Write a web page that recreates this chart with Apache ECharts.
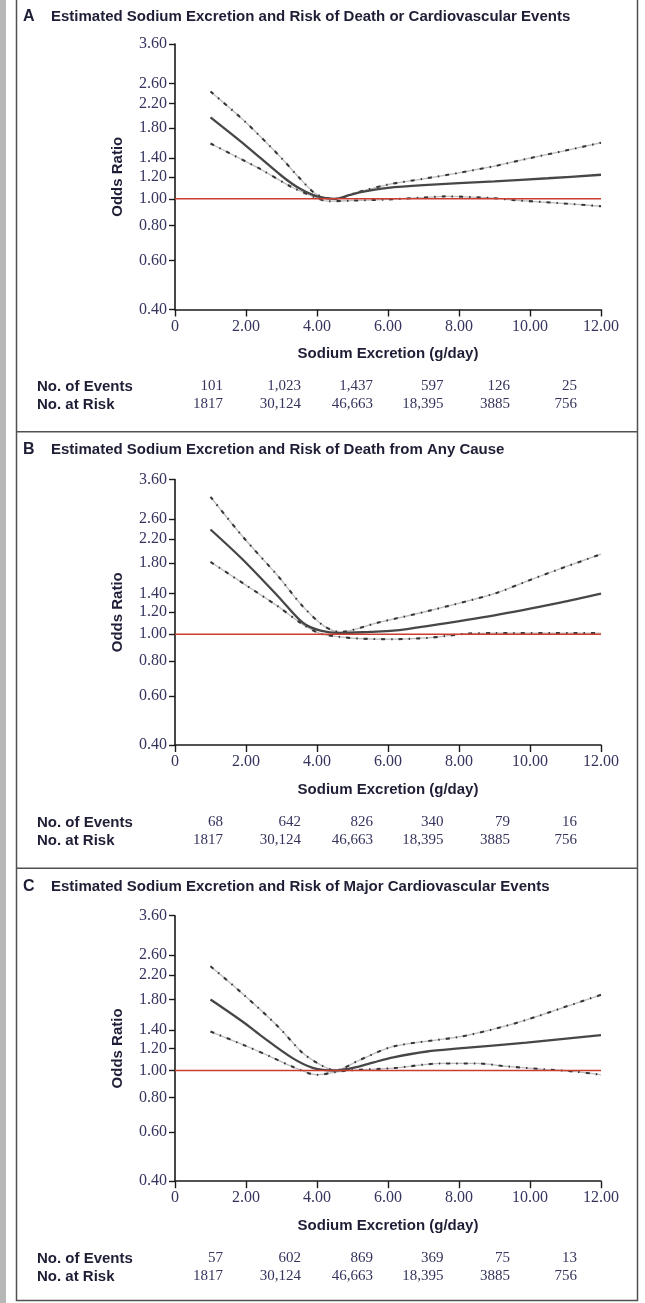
<!DOCTYPE html>
<html>
<head>
<meta charset="utf-8">
<style>
  html, body { margin: 0; padding: 0; background: #ffffff; }
  #chart { width: 645px; height: 1303px; }
</style>
<script src="https://cdn.jsdelivr.net/npm/echarts@6.0.0/dist/echarts.min.js"></script>
</head>
<body>
<div id="chart"></div>
<script>
// ---- Data -------------------------------------------------------------
const panelLetters = ['A', 'B', 'C'];
const panelTitles = [
  'Estimated Sodium Excretion and Risk of Death or Cardiovascular Events',
  'Estimated Sodium Excretion and Risk of Death from Any Cause',
  'Estimated Sodium Excretion and Risk of Major Cardiovascular Events'
];

// axis ticks: sodium excretion (g/day) and odds ratio (log-spaced axis)
const xTickValues = [0, 2, 4, 6, 8, 10, 12];
const orTickValues = [0.40, 0.60, 0.80, 1.00, 1.20, 1.40, 1.80, 2.20, 2.60, 3.60];
const referenceOR = 1.0;

// [sodium g/day, odds ratio]
const centralA = [[1,1.96],[2,1.55],[3,1.21],[3.5,1.09],[4,1.02],[4.5,1.0],[4.9,1.03],[5.2,1.055],[6,1.095],[7,1.12],[9,1.155],[10.5,1.185],[12,1.22]];
const upperA   = [[1,2.43],[2,1.88],[3,1.40],[3.5,1.19],[4,1.035],[4.5,1.0],[5.2,1.06],[6,1.125],[7,1.18],[8,1.24],[9,1.31],[10,1.40],[11,1.49],[12,1.59]];
const lowerA   = [[1,1.58],[2,1.36],[2.4,1.28],[3.3,1.10],[4,1.005],[4.3,0.98],[5,0.985],[6,0.995],[7,1.01],[7.6,1.02],[9,1.005],[9.5,0.99],[10.8,0.965],[12,0.94]];

const centralB = [[1,2.38],[1.9,1.86],[2.9,1.37],[3.6,1.10],[4.1,1.03],[4.65,1.01],[5.5,1.02],[6.15,1.03],[7.1,1.07],[9,1.17],[10.85,1.30],[12,1.40]];
const upperB   = [[1,3.12],[1.9,2.25],[2.9,1.62],[3.6,1.26],[4.2,1.07],[4.65,1.02],[5.7,1.10],[7.1,1.21],[9,1.40],[9.9,1.55],[10.85,1.72],[12,1.94]];
const lowerB   = [[1,1.82],[1.9,1.53],[2.9,1.26],[3.6,1.085],[4.1,1.005],[4.6,0.98],[5.2,0.965],[6.15,0.96],[7.1,0.97],[7.6,0.985],[8.2,1.005],[9,1.01],[12,1.01]];

const centralC = [[1,1.80],[1.9,1.50],[2.4,1.34],[3.3,1.11],[3.9,1.02],[4.5,1.0],[5.2,1.035],[5.6,1.07],[6.15,1.115],[7.1,1.17],[8,1.20],[9.9,1.26],[12,1.34]];
const upperC   = [[1,2.37],[1.9,1.89],[2.9,1.44],[3.6,1.155],[4.1,1.048],[4.5,1.0],[5.2,1.09],[6.15,1.22],[8,1.32],[9,1.41],[9.9,1.52],[10.85,1.67],[12,1.87]];
const lowerC   = [[1,1.38],[1.9,1.24],[2.7,1.12],[3.3,1.033],[4,0.965],[4.5,0.985],[4.85,1.0],[6.15,1.02],[7.5,1.06],[8.5,1.06],[9.4,1.033],[10.4,1.01],[11.3,0.99],[12,0.965]];

// table under each panel
const eventsA = ['101', '1,023', '1,437', '597', '126', '25'];
const eventsB = ['68', '642', '826', '340', '79', '16'];
const eventsC = ['57', '602', '869', '369', '75', '13'];
const atRisk  = ['1817', '30,124', '46,663', '18,395', '3885', '756'];

// ---- Layout & style ---------------------------------------------------
const SANS = "'Liberation Sans', Arial, sans-serif";
const SERIF = "'Liberation Serif', 'DejaVu Serif', serif";
const INK = '#1e1e36';
const NUM_INK = '#34345e';

const plotLeft = 175, plotWidth = 426, plotHeight = 265.5;
const plotTops = [44, 479.5, 915.7];
const titleY = [16.7, 450, 886.7];
const tableY = [386.5, 822.5, 1258.5];
const tableRowGap = 18;
const tableColumnRight = [223, 301, 373, 443.5, 510, 577];

const panels = [
  { central: centralA, upper: upperA, lower: lowerA, events: eventsA },
  { central: centralB, upper: upperB, lower: lowerB, events: eventsB },
  { central: centralC, upper: upperC, lower: lowerC, events: eventsC }
];

const toLog = d => [d[0], Math.log(d[1])];
const orFormat = v => Math.exp(v).toFixed(2);

const grids = [], xAxes = [], yAxes = [], series = [], graphics = [];

panels.forEach((p, i) => {
  grids.push({ left: plotLeft, top: plotTops[i], width: plotWidth, height: plotHeight, containLabel: false });

  xAxes.push({
    gridIndex: i, type: 'value', min: 0, max: 12, interval: 2,
    axisLine: { show: true, onZero: false, lineStyle: { color: '#1a1a1a', width: 1.6 } },
    axisTick: { show: true, length: 7, lineStyle: { color: '#1a1a1a', width: 1.4 } },
    axisLabel: {
      margin: 9, fontFamily: SERIF, fontSize: 16, color: NUM_INK,
      formatter: v => (v === 0 ? '0' : v.toFixed(2)),
      showMinLabel: true, showMaxLabel: true
    },
    splitLine: { show: false },
    name: 'Sodium Excretion (g/day)', nameLocation: 'middle', nameGap: 37,
    nameTextStyle: { fontFamily: SANS, fontWeight: 'bold', fontSize: 15, color: INK }
  });

  const logTicks = orTickValues.map(v => Math.log(v));
  yAxes.push({
    gridIndex: i, type: 'value',
    min: Math.log(orTickValues[0]), max: Math.log(orTickValues[orTickValues.length - 1]),
    axisLine: { show: true, onZero: false, lineStyle: { color: '#1a1a1a', width: 1.6 } },
    axisTick: { show: true, length: 6, customValues: logTicks, lineStyle: { color: '#1a1a1a', width: 1.4 } },
    axisLabel: {
      margin: 8, fontFamily: SERIF, fontSize: 16, color: NUM_INK,
      customValues: logTicks, formatter: orFormat
    },
    splitLine: { show: false },
    name: 'Odds Ratio', nameLocation: 'middle', nameGap: 50, nameRotate: 90,
    nameTextStyle: { fontFamily: SANS, fontWeight: 'bold', fontSize: 15, color: INK }
  });

  const common = {
    type: 'line', xAxisIndex: i, yAxisIndex: i, showSymbol: false, silent: true,
    smooth: 0.3, animation: false
  };

  // confidence bounds: pale line with dark dash-dot marks along it
  [p.upper, p.lower].forEach(ci => {
    const d = ci.map(toLog);
    series.push(Object.assign({}, common, { data: d, z: 2, lineStyle: { color: '#bdbdbd', width: 1.3 } }));
    series.push(Object.assign({}, common, {
      data: d, z: 3,
      lineStyle: { color: '#111111', width: 2.1, opacity: 0.8, type: [4, 6, 1.5, 6] }
    }));
  });

  // odds ratio estimate
  series.push(Object.assign({}, common, {
    data: p.central.map(toLog), z: 4,
    lineStyle: { color: '#474747', width: 2.3 }
  }));

  // reference line at OR = 1
  series.push(Object.assign({}, common, {
    smooth: false, z: 5,
    data: [[xTickValues[0], Math.log(referenceOR)], [xTickValues[xTickValues.length - 1], Math.log(referenceOR)]],
    lineStyle: { color: '#cc3d30', width: 1.6 }
  }));

  // panel heading
  graphics.push({
    type: 'text', x: 23, y: titleY[i],
    style: { text: panelLetters[i], font: 'bold 16px ' + SANS, fill: INK, align: 'left', verticalAlign: 'middle', textAlign: 'left', textVerticalAlign: 'middle' }
  });
  graphics.push({
    type: 'text', x: 51, y: titleY[i],
    style: { text: panelTitles[i], font: 'bold 15px ' + SANS, fill: INK, align: 'left', verticalAlign: 'middle', textAlign: 'left', textVerticalAlign: 'middle' }
  });

  // events / at-risk table
  const rows = [['No. of Events', p.events], ['No. at Risk', atRisk]];
  rows.forEach((row, r) => {
    const y = tableY[i] + r * tableRowGap;
    graphics.push({
      type: 'text', x: 37, y: y,
      style: { text: row[0], font: 'bold 15px ' + SANS, fill: INK, align: 'left', verticalAlign: 'middle', textAlign: 'left', textVerticalAlign: 'middle' }
    });
    row[1].forEach((val, c) => {
      graphics.push({
        type: 'text', x: tableColumnRight[c], y: y,
        style: { text: val, font: '15px ' + SERIF, fill: NUM_INK, align: 'right', verticalAlign: 'middle', textAlign: 'right', textVerticalAlign: 'middle' }
      });
    });
  });
});

// page frame: grey edge strip, outer box and panel dividers
graphics.unshift(
  { type: 'rect', shape: { x: 0, y: 0, width: 6, height: 1303 }, style: { fill: '#b7b7b7' }, z: -10 },
  { type: 'rect', shape: { x: 16.5, y: -5, width: 621, height: 1305.5 }, style: { fill: 'none', stroke: '#505050', lineWidth: 1.5 } },
  { type: 'line', shape: { x1: 16.5, y1: 431.8, x2: 637.5, y2: 431.8 }, style: { stroke: '#505050', lineWidth: 1.5 } },
  { type: 'line', shape: { x1: 16.5, y1: 868.3, x2: 637.5, y2: 868.3 }, style: { stroke: '#505050', lineWidth: 1.5 } }
);

const chart = echarts.init(document.getElementById('chart'), null, { renderer: 'canvas' });
chart.setOption({
  animation: false,
  backgroundColor: '#ffffff',
  grid: grids,
  xAxis: xAxes,
  yAxis: yAxes,
  series: series,
  graphic: { elements: graphics }
});
</script>
</body>
</html>
